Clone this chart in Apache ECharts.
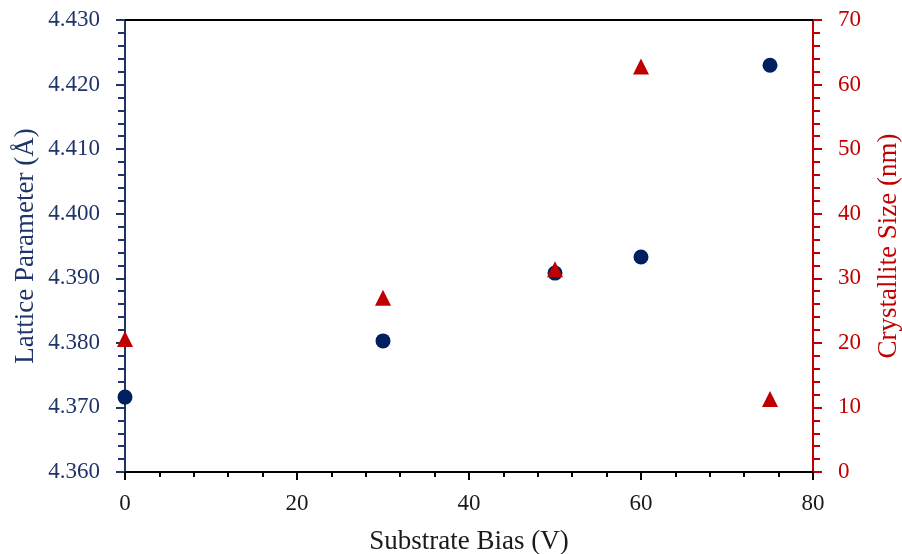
<!DOCTYPE html>
<html>
<head>
<meta charset="utf-8">
<script src="https://cdn.jsdelivr.net/npm/echarts@6/dist/echarts.min.js"></script>
<style>
  html, body { margin: 0; padding: 0; background: #ffffff; }
  #chart { width: 902px; height: 554px; }
</style>
</head>
<body>
<div id="chart"></div>
<script>
// Substrate bias (V) for each sample
const biasVolts = [0, 30, 50, 60, 75];
// Lattice parameter (Å), left axis
const latticeParam = [4.3716, 4.3803, 4.3908, 4.3933, 4.4230];
// Crystallite size (nm), right axis
const crystalliteSize = [20.6, 27.0, 31.4, 62.8, 11.3];

const NAVY = '#002060';
const NAVY_TEXT = '#1f3468';
const RED = '#c00000';
const FONT = '"Liberation Serif", "DejaVu Serif", serif';

const chart = echarts.init(document.getElementById('chart'));

chart.setOption({
  animation: false,
  backgroundColor: '#ffffff',
  grid: {
    left: 125, right: 89, top: 20, bottom: 82,
    containLabel: false,
    outerBoundsMode: 'none'
  },
  xAxis: [
    {
      type: 'value',
      min: 0, max: 80, interval: 20,
      position: 'bottom',
      name: 'Substrate Bias (V)',
      nameLocation: 'middle',
      nameGap: 56,
      nameMoveOverlap: false,
      nameTextStyle: { fontFamily: FONT, fontSize: 27, color: '#1a1a1a' },
      axisLine: { show: true, onZero: false, lineStyle: { color: '#000000', width: 2 } },
      axisTick: { show: true, inside: false, length: 8, lineStyle: { color: '#000000', width: 2 } },
      minorTick: { show: true, splitNumber: 5, length: 5, lineStyle: { color: '#000000', width: 2 } },
      axisLabel: { fontFamily: FONT, fontSize: 23, color: '#1a1a1a', margin: 20 },
      splitLine: { show: false }
    },
    {
      // plain frame line across the top of the plot
      type: 'value',
      min: 0, max: 80,
      position: 'top',
      axisLine: { show: true, onZero: false, lineStyle: { color: '#000000', width: 2 } },
      axisTick: { show: false },
      axisLabel: { show: false },
      splitLine: { show: false }
    }
  ],
  yAxis: [
    {
      type: 'value',
      min: 4.36, max: 4.43, interval: 0.01,
      position: 'left',
      name: 'Lattice Parameter (Å)',
      nameLocation: 'middle',
      nameGap: 86,
      nameMoveOverlap: false,
      nameTextStyle: { fontFamily: FONT, fontSize: 27, color: NAVY_TEXT },
      axisLine: { show: true, onZero: false, lineStyle: { color: NAVY_TEXT, width: 2 } },
      axisTick: { show: true, inside: false, length: 9, lineStyle: { color: NAVY_TEXT, width: 2 } },
      minorTick: { show: true, splitNumber: 5, length: 7, lineStyle: { color: NAVY_TEXT, width: 2 } },
      axisLabel: {
        fontFamily: FONT, fontSize: 23, color: NAVY_TEXT, margin: 25,
        formatter: v => v.toFixed(3)
      },
      splitLine: { show: false }
    },
    {
      type: 'value',
      min: 0, max: 70, interval: 10,
      position: 'right',
      name: 'Crystallite Size (nm)',
      nameLocation: 'middle',
      nameGap: 62,
      nameMoveOverlap: false,
      nameTextStyle: { fontFamily: FONT, fontSize: 27, color: RED },
      axisLine: { show: true, onZero: false, lineStyle: { color: RED, width: 2 } },
      axisTick: { show: true, inside: false, length: 9, lineStyle: { color: RED, width: 2 } },
      minorTick: { show: true, splitNumber: 5, length: 7, lineStyle: { color: RED, width: 2 } },
      axisLabel: { fontFamily: FONT, fontSize: 23, color: RED, margin: 25 },
      splitLine: { show: false }
    }
  ],
  series: [
    {
      name: 'Lattice Parameter',
      type: 'scatter',
      xAxisIndex: 0,
      yAxisIndex: 0,
      symbol: 'circle',
      symbolSize: 15,
      itemStyle: { color: NAVY, opacity: 1 },
      data: biasVolts.map((x, i) => [x, latticeParam[i]])
    },
    {
      name: 'Crystallite Size',
      type: 'scatter',
      xAxisIndex: 0,
      yAxisIndex: 1,
      symbol: 'triangle',
      symbolSize: 16,
      itemStyle: { color: RED, opacity: 1 },
      data: biasVolts.map((x, i) => [x, crystalliteSize[i]])
    }
  ]
});
</script>
</body>
</html>
